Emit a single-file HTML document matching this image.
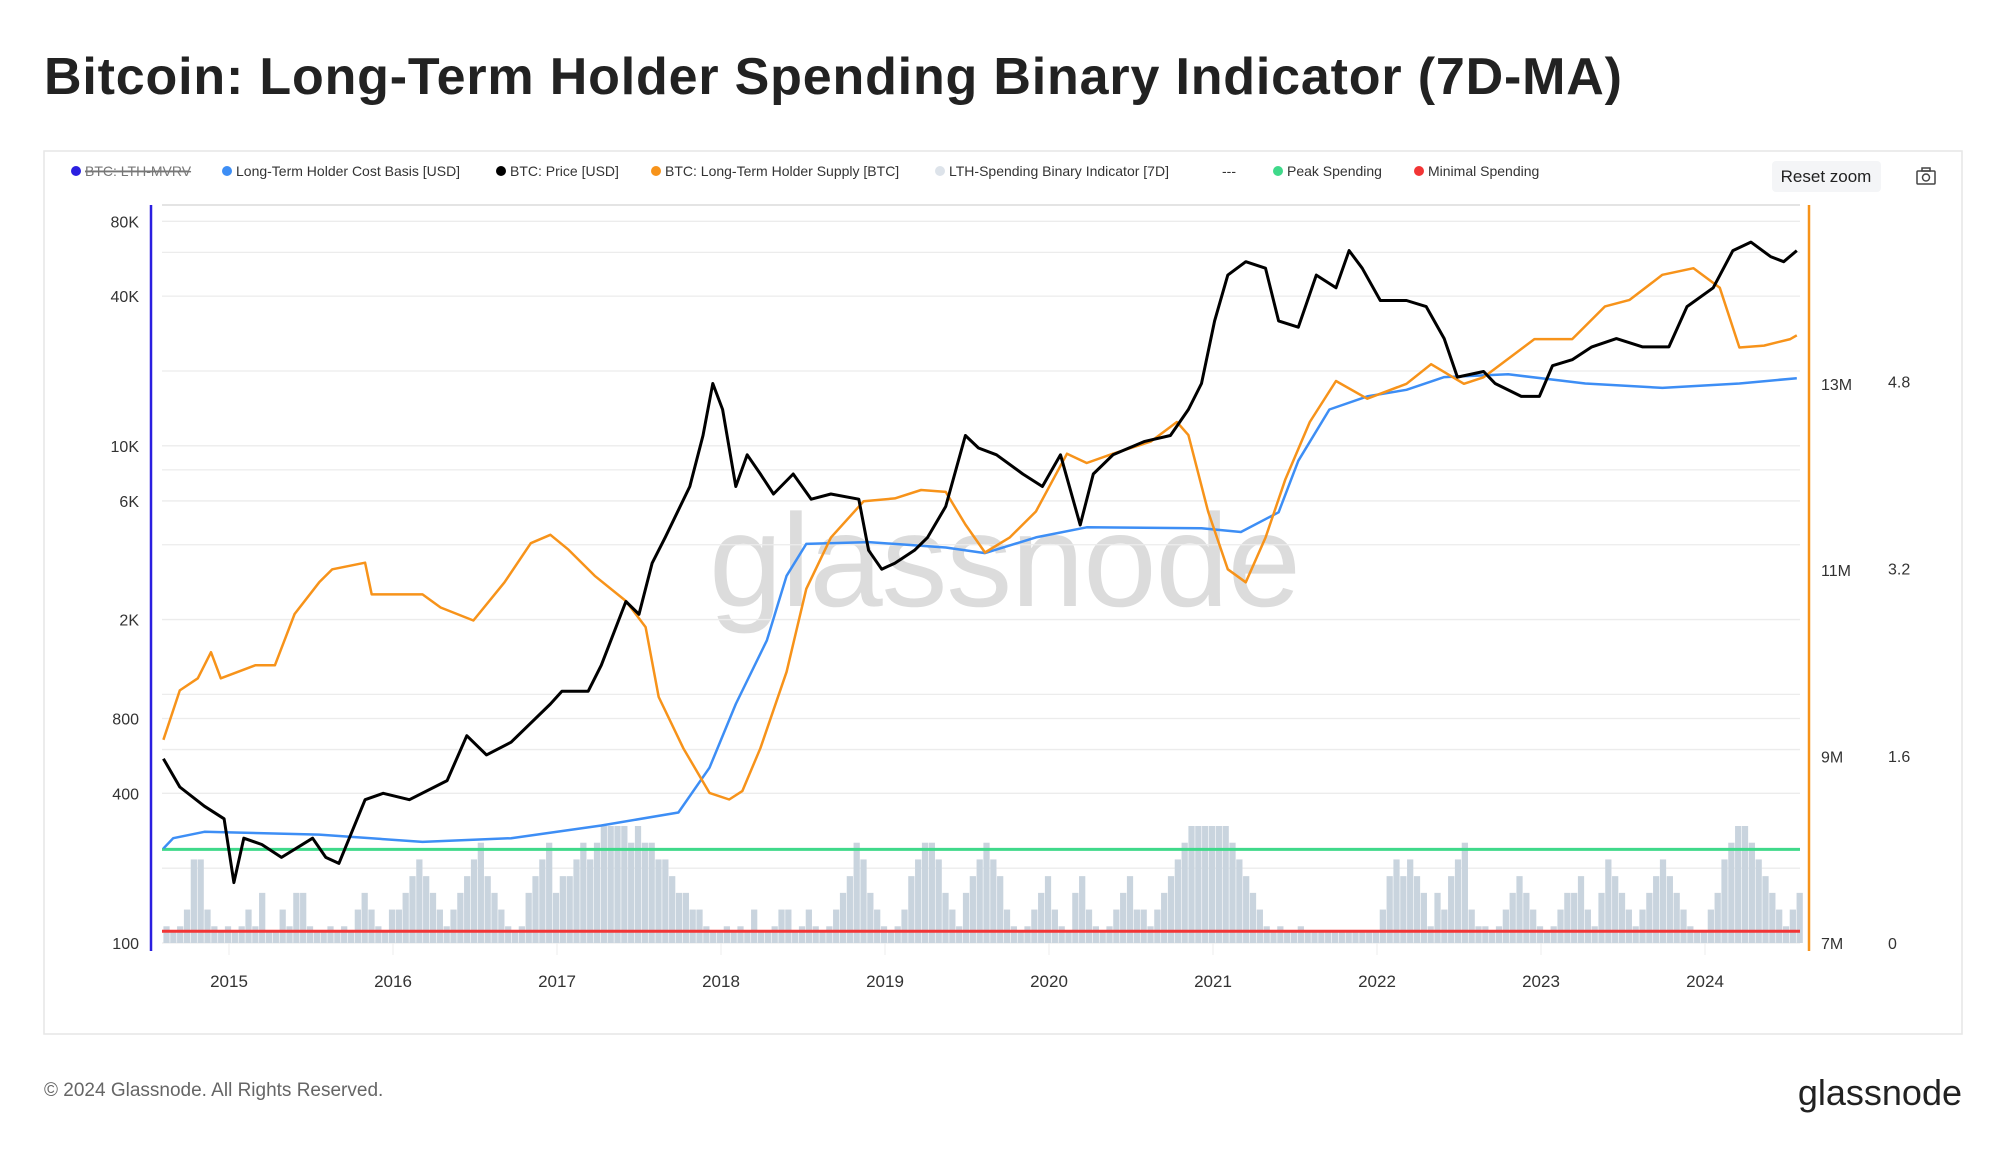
<!DOCTYPE html>
<html><head><meta charset="utf-8"><style>
html,body{margin:0;padding:0;background:#fff;}
svg{display:block;font-family:"Liberation Sans",sans-serif;}
</style></head><body>
<svg id="chart" width="2000" height="1152" viewBox="0 0 2000 1152">
<text x="44" y="94" font-size="52" font-weight="600" fill="#222" textLength="1578">Bitcoin: Long-Term Holder Spending Binary Indicator (7D-MA)</text>
<rect x="44" y="151" width="1918" height="883" fill="#fff" stroke="#e6e6e6" stroke-width="1.5"/>
<g id="legend" font-size="14" fill="#333">
 <g><circle cx="76" cy="171" r="5" fill="#2a1fe0"/><text x="85" y="176" fill="#777" text-decoration="line-through">BTC: LTH-MVRV</text><line x1="85" y1="171" x2="189" y2="171" stroke="#777" stroke-width="1"/></g>
 <g><circle cx="227" cy="171" r="5" fill="#3d8ef5"/><text x="236" y="176">Long-Term Holder Cost Basis [USD]</text></g>
 <g><circle cx="501" cy="171" r="5" fill="#000"/><text x="510" y="176">BTC: Price [USD]</text></g>
 <g><circle cx="656" cy="171" r="5" fill="#f7931a"/><text x="665" y="176">BTC: Long-Term Holder Supply [BTC]</text></g>
 <g><circle cx="940" cy="171" r="5" fill="#dde3ea"/><text x="949" y="176">LTH-Spending Binary Indicator [7D]</text></g>
 <g><text x="1222" y="176">---</text></g>
 <g><circle cx="1278" cy="171" r="5" fill="#3fd98a"/><text x="1287" y="176">Peak Spending</text></g>
 <g><circle cx="1419" cy="171" r="5" fill="#f23535"/><text x="1428" y="176">Minimal Spending</text></g>
</g>
<g><rect x="1772" y="161" width="109" height="31" rx="4" fill="#f4f5f7"/><text x="1826" y="182" font-size="17" fill="#222" text-anchor="middle">Reset zoom</text></g>
<g fill="none" stroke="#444" stroke-width="1.5"><rect x="1917" y="171" width="18" height="13" rx="1"/><rect x="1922" y="168" width="8" height="3"/><circle cx="1926" cy="177.5" r="3.5"/></g>
<text x="1005" y="606" font-size="132" fill="#dcdcdc" text-anchor="middle" textLength="592">glassnode</text>
<g id="grid"></g>
<g id="bars"></g>
<g id="lines"></g>
<g id="axes"></g>
<text x="44" y="1096" font-size="19" fill="#666">© 2024 Glassnode. All Rights Reserved.</text>
<text x="1962" y="1105" font-size="36" fill="#222" text-anchor="end">glassnode</text>
</svg>
<script>
const yearTicks=[2015,2016,2017,2018,2019,2020,2021,2022,2023,2024];
const priceTickVals=[100,400,800,2000,6000,10000,40000,80000];
const priceTickLabels=["100","400","800","2K","6K","10K","40K","80K"];
const priceGridVals=[100,200,400,600,800,1000,2000,4000,6000,8000,10000,20000,40000,60000,80000];
const supplyTickVals=[7,9,11,13];
const supplyTickLabels=["7M","9M","11M","13M"];
const indTickVals=[0,1.6,3.2,4.8];
const indTickLabels=["0","1.6","3.2","4.8"];
const peakLevel=0.8;
const minimalLevel=0.1;
const priceDates=[2014.60,2014.70,2014.85,2014.97,2015.03,2015.09,2015.20,2015.32,2015.51,2015.59,2015.67,2015.83,2015.94,2016.10,2016.33,2016.45,2016.57,2016.72,2016.96,2017.03,2017.19,2017.27,2017.42,2017.50,2017.58,2017.66,2017.81,2017.89,2017.95,2018.01,2018.09,2018.16,2018.24,2018.32,2018.44,2018.55,2018.67,2018.84,2018.90,2018.98,2019.06,2019.18,2019.26,2019.37,2019.49,2019.57,2019.68,2019.84,2019.96,2020.07,2020.19,2020.27,2020.39,2020.58,2020.74,2020.85,2020.93,2021.01,2021.09,2021.20,2021.32,2021.40,2021.52,2021.63,2021.75,2021.83,2021.91,2022.02,2022.18,2022.30,2022.41,2022.49,2022.65,2022.72,2022.88,2022.99,2023.07,2023.19,2023.31,2023.46,2023.62,2023.78,2023.89,2024.05,2024.17,2024.28,2024.40,2024.48,2024.56];
const priceValues=[551,424,355,316,175,264,249,221,264,221,209,377,400,377,450,682,571,642,915,1030,1030,1311,2364,2100,3370,4280,6860,11000,17800,14000,6860,9200,7700,6400,7700,6100,6400,6100,3800,3190,3370,3800,4280,5700,11000,9800,9200,7700,6860,9200,4800,7700,9200,10400,11000,14000,17800,31800,48600,55000,51800,31800,30000,48600,43200,61000,51800,38400,38400,36300,27000,18900,19900,17800,15800,15800,21000,22200,25000,27000,25000,25000,36300,43200,61000,66000,57700,55000,61000];
const costDates=[2014.60,2014.66,2014.85,2015.55,2016.18,2016.72,2017.27,2017.74,2017.93,2018.09,2018.28,2018.40,2018.52,2018.90,2019.37,2019.61,2019.92,2020.23,2020.93,2021.17,2021.40,2021.52,2021.71,2021.94,2022.18,2022.41,2022.80,2023.27,2023.74,2024.21,2024.56];
const costValues=[240,264,280,273,255,264,297,335,507,915,1650,3000,4030,4100,3900,3700,4280,4700,4660,4500,5400,8700,14000,15800,16800,18900,19400,17800,17100,17800,18700];
const supplyDates=[2014.60,2014.70,2014.81,2014.89,2014.95,2015.16,2015.28,2015.40,2015.55,2015.63,2015.83,2015.87,2016.18,2016.29,2016.49,2016.68,2016.84,2016.96,2017.07,2017.23,2017.42,2017.54,2017.62,2017.77,2017.93,2018.05,2018.13,2018.24,2018.40,2018.52,2018.67,2018.87,2019.06,2019.22,2019.37,2019.49,2019.61,2019.76,2019.92,2020.11,2020.23,2020.39,2020.62,2020.78,2020.85,2020.97,2021.09,2021.20,2021.32,2021.44,2021.59,2021.75,2021.94,2022.18,2022.33,2022.53,2022.65,2022.96,2023.19,2023.39,2023.54,2023.74,2023.93,2024.09,2024.21,2024.36,2024.52,2024.56];
const supplyValues=[9.18,9.71,9.84,10.12,9.84,9.98,9.98,10.53,10.87,11.01,11.08,10.74,10.74,10.60,10.46,10.87,11.29,11.38,11.22,10.94,10.67,10.39,9.64,9.09,8.61,8.54,8.63,9.09,9.91,10.80,11.35,11.74,11.77,11.86,11.84,11.49,11.19,11.35,11.63,12.25,12.15,12.25,12.38,12.59,12.45,11.63,11.01,10.87,11.35,11.97,12.59,13.03,12.84,13.00,13.21,13.00,13.07,13.48,13.48,13.83,13.90,14.17,14.24,14.03,13.39,13.41,13.48,13.52];
const indicatorStart=2014.6;
const indicatorStep=1/24;
const indicatorSevenths="1012552101"+"012130021331001010232102"+"234543212345643210134563"+"445656777767665543322100"+"101020012201210123465321"+"012456653213456542101234"+"210342101234221234567777"+"776543210100100000000000"+"245454313245621101234321"+"012334213543212345432100"+"23567765432123";

const NS="http://www.w3.org/2000/svg";
const X0=151,X1=1809,YT=205,YB=943;
const xS=t=>229+(t-2015)*164;
const yP=v=>943-(Math.log10(v)-2)*248.6;
const yS=m=>943-(m-7)*93.2;
const yI=v=>943-v*117;
function mk(tag,attrs,parent){const e=document.createElementNS(NS,tag);for(const k in attrs)e.setAttribute(k,attrs[k]);parent.appendChild(e);return e;}
const grid=document.getElementById('grid'),bars=document.getElementById('bars'),lines=document.getElementById('lines'),axes=document.getElementById('axes');
priceGridVals.forEach(v=>{const l=mk('line',{x1:162,x2:1800,y1:yP(v),y2:yP(v),stroke:'#ececec','stroke-width':1.3},grid);

});
const topLine=mk('line',{x1:162,x2:1800,y1:YT,y2:YT,stroke:'#dcdcdc','stroke-width':1.5},grid);


yearTicks.forEach(y=>{const l=mk('line',{x1:xS(y),x2:xS(y),y1:943,y2:955,stroke:'#eee','stroke-width':1},grid);


const t=mk('text',{x:xS(y),y:987,'font-size':17,fill:'#333','text-anchor':'middle'},axes);t.textContent=y;

});
for(let i=0;i<indicatorSevenths.length;i++){
 const v=parseInt(indicatorSevenths[i])/7;
 const t=indicatorStart+i*indicatorStep;
 const x=xS(t),w=xS(t+indicatorStep)-x;
 const h=Math.max(v,0.1);
 const r=mk('rect',{x:x,y:yI(h),width:Math.max(w-0.6,0.5),height:943-yI(h),fill:'#c9d4de'},bars);
 
 
}
const peak=mk('line',{x1:162,x2:1800,y1:yI(peakLevel),y2:yI(peakLevel),stroke:'#3fd98a','stroke-width':3},lines);


const minl=mk('line',{x1:162,x2:1800,y1:yI(minimalLevel),y2:yI(minimalLevel),stroke:'#f23535','stroke-width':3},lines);


function path(ds,vs,ys){return ds.map((d,i)=>(i?'L':'M')+xS(d).toFixed(1)+','+ys(vs[i]).toFixed(1)).join(' ');}
const cb=mk('path',{d:path(costDates,costValues,yP),fill:'none',stroke:'#3d8ef5','stroke-width':2.5,'stroke-linejoin':'round'},lines);


const sp=mk('path',{d:path(supplyDates,supplyValues,yS),fill:'none',stroke:'#f7931a','stroke-width':2.5,'stroke-linejoin':'round'},lines);


const pr=mk('path',{d:path(priceDates,priceValues,yP),fill:'none',stroke:'#000','stroke-width':3,'stroke-linejoin':'round'},lines);


const la=mk('line',{x1:X0,x2:X0,y1:YT,y2:951,stroke:'#2a1fe0','stroke-width':2.5},axes);


const ra=mk('line',{x1:X1,x2:X1,y1:YT,y2:951,stroke:'#f7931a','stroke-width':2.5},axes);


priceTickVals.forEach((v,i)=>{const t=mk('text',{x:139,y:yP(v)+6,'font-size':16,fill:'#333','text-anchor':'end'},axes);t.textContent=priceTickLabels[i];

});
supplyTickVals.forEach((v,i)=>{const t=mk('text',{x:1821,y:yS(v)+6,'font-size':16,fill:'#333'},axes);t.textContent=supplyTickLabels[i];

});
indTickVals.forEach((v,i)=>{const t=mk('text',{x:1888,y:yI(v)+6,'font-size':16,fill:'#333'},axes);t.textContent=indTickLabels[i];

});
</script>
</body></html>
